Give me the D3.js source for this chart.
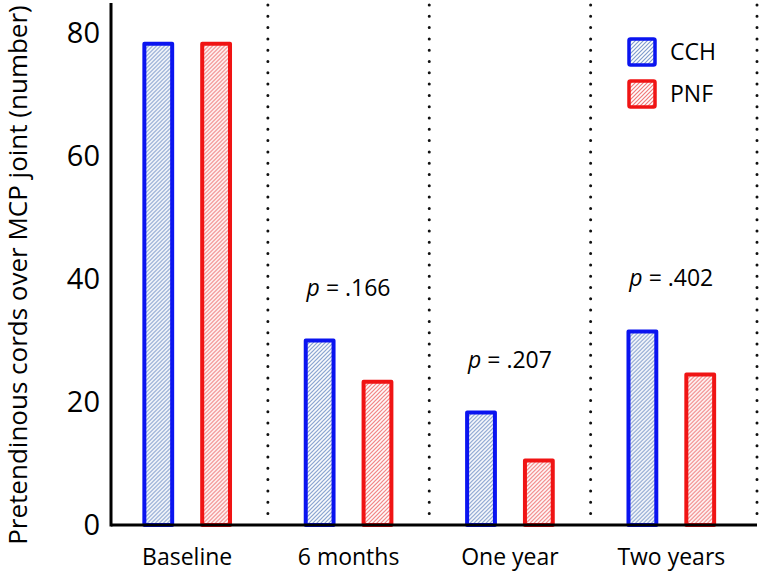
<!DOCTYPE html>
<html>
<head>
<meta charset="utf-8">
<script src="https://cdn.jsdelivr.net/npm/d3@7"></script>
<style>
  body { margin: 0; background: #fff; }
  svg { display: block; }
  text { font-family: "Open Sans", "Liberation Sans", sans-serif; fill: #000; }
</style>
</head>
<body>
<svg id="chart" width="761" height="574"></svg>
<script>
const categories = ["Baseline", "6 months", "One year", "Two years"];
const seriesNames = ["CCH", "PNF"];
const cchValues = [78.3, 30, 18.3, 31.5];
const pnfValues = [78.3, 23.3, 10.5, 24.5];
const pLabels = [null, ".166", ".207", ".402"];
const yTicks = [0, 20, 40, 60, 80];

const W = 761, H = 574;
const axisLeftX = 111, axisRightX = 757;
const svg = d3.select("#chart");

const x = d3.scaleBand().domain(categories).range([106.5, 752]);
const xs = d3.scaleBand().domain(seriesNames).range([0, x.bandwidth()])
  .paddingInner(0.45).paddingOuter(0.62);
const y = d3.scaleLinear().domain([0, 80]).range([525, 33.3]);

const strokeCol = { CCH: "#0a14f0", PNF: "#f01414" };
const hatchCol = { CCH: "#7f9ccc", PNF: "#f07a7a" };

const defs = svg.append("defs");
seriesNames.forEach(s => {
  const p = defs.append("pattern").attr("id", "hatch-" + s)
    .attr("patternUnits", "userSpaceOnUse").attr("width", 4).attr("height", 4);
  p.append("rect").attr("width", 4).attr("height", 4).attr("fill", "#fff");
  p.append("path").attr("d", "M-1,1 l2,-2 M0,4 l4,-4 M3,5 l2,-2")
    .attr("stroke", hatchCol[s]).attr("stroke-width", 1.2);
});

// dotted separators
const sepX = categories.slice(1).map(d => x(d)).concat([axisRightX]);
svg.append("g").selectAll("line").data(sepX)
  .join("line")
  .attr("x1", d => d).attr("x2", d => d)
  .attr("y1", 5).attr("y2", y(0) - 3)
  .attr("stroke", "#111").attr("stroke-width", 3)
  .attr("stroke-linecap", "round").attr("stroke-dasharray", "0 11.3");

// bars
const rows = categories.map((c, i) => ({ cat: c, vals: [
  { s: "CCH", v: cchValues[i] }, { s: "PNF", v: pnfValues[i] }] }));
const g = svg.append("g").selectAll("g").data(rows).join("g")
  .attr("transform", d => `translate(${x(d.cat)},0)`);
g.selectAll("rect").data(d => d.vals).join("rect")
  .attr("x", d => xs(d.s) + 2)
  .attr("width", xs.bandwidth() - 4)
  .attr("y", d => y(d.v))
  .attr("height", d => y(0) - y(d.v))
  .attr("fill", d => `url(#hatch-${d.s})`)
  .attr("stroke", d => strokeCol[d.s]).attr("stroke-width", 4)
  .attr("stroke-linejoin", "round");

// p labels
svg.append("g").selectAll("text").data(categories.map((c, i) => ({ c, p: pLabels[i], m: Math.max(cchValues[i], pnfValues[i]) })).filter(d => d.p))
  .join("text")
  .attr("x", d => x(d.c) + x.bandwidth() / 2)
  .attr("y", d => y(d.m) - 45)
  .attr("text-anchor", "middle").attr("font-size", 23)
  .each(function(d) {
    const t = d3.select(this);
    t.append("tspan").attr("font-style", "italic").text("p");
    t.append("tspan").text(" = " + d.p);
  });

// axes
const yAxis = d3.axisLeft(y).tickValues(yTicks).tickSize(0).tickPadding(11);
const ya = svg.append("g").attr("transform", `translate(${axisLeftX},0)`).call(yAxis);
ya.select(".domain").remove();
ya.selectAll("text").attr("font-size", 29).attr("font-family", "'Open Sans', sans-serif").attr("fill", "#000");
svg.append("line").attr("x1", axisLeftX).attr("x2", axisLeftX)
  .attr("y1", 3).attr("y2", y(0) + 1.5)
  .attr("stroke", "#000").attr("stroke-width", 3);

const xAxis = d3.axisBottom(x).tickSize(0).tickPadding(24);
const xa = svg.append("g").attr("transform", `translate(0,${y(0)})`).call(xAxis);
xa.select(".domain").remove();
xa.selectAll("text").attr("font-size", 23).attr("font-family", "'Open Sans', sans-serif").attr("fill", "#000");
svg.append("line").attr("x1", axisLeftX).attr("x2", axisRightX)
  .attr("y1", y(0)).attr("y2", y(0))
  .attr("stroke", "#000").attr("stroke-width", 3);

// y title
svg.append("text")
  .attr("transform", `translate(27,${275}) rotate(-90)`)
  .attr("text-anchor", "middle").attr("font-size", 26)
  .text("Pretendinous cords over MCP joint (number)");

// legend
const lg = svg.append("g").selectAll("g").data(seriesNames).join("g")
  .attr("transform", (d, i) => `translate(629,${39 + i * 42})`);
lg.append("rect").attr("width", 26).attr("height", 26)
  .attr("fill", d => `url(#hatch-${d})`)
  .attr("stroke", d => strokeCol[d]).attr("stroke-width", 3.5).attr("rx", 1.5);
lg.append("text").attr("x", 41).attr("y", 13).attr("dy", "0.36em")
  .attr("font-size", 23).text(d => d);
</script>
</body>
</html>
